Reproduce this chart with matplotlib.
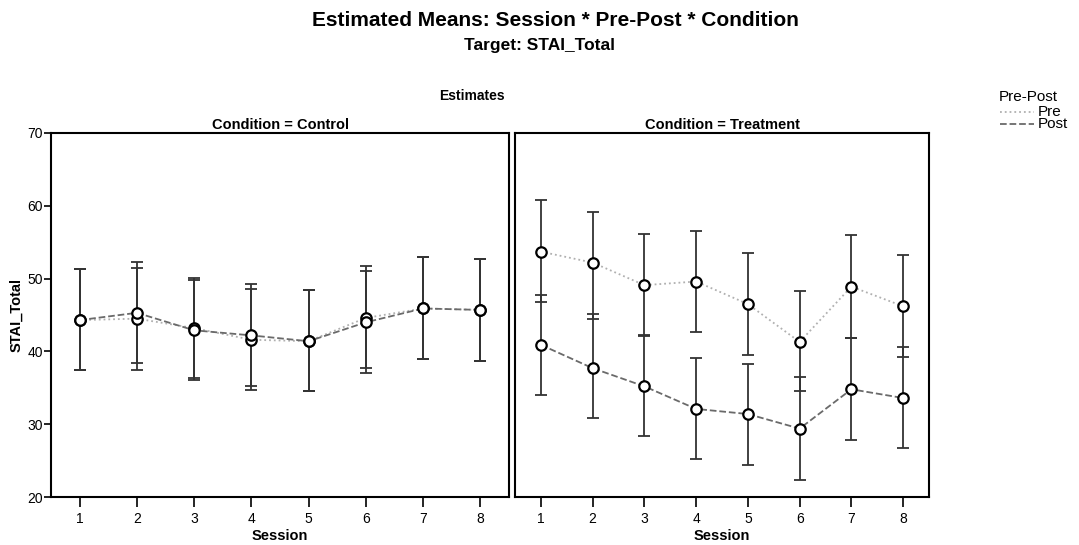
import numpy as np
import matplotlib
matplotlib.use('Agg')
import matplotlib.pyplot as plt
from matplotlib.lines import Line2D

plt.rcParams['font.family'] = ['Liberation Sans', 'DejaVu Sans']

sessions = [1, 2, 3, 4, 5, 6, 7, 8]

# Control condition
ctrl_pre = [44.3, 44.5, 43.2, 41.6, 41.4, 44.6, 45.9, 45.7]
ctrl_pre_lo = [37.4, 37.5, 36.3, 34.7, 34.5, 37.7, 38.9, 38.7]
ctrl_pre_hi = [51.3, 51.5, 50.1, 48.6, 48.4, 51.7, 53.0, 52.7]
ctrl_post = [44.3, 45.3, 42.9, 42.2, 41.4, 44.0, 45.9, 45.7]
ctrl_post_lo = [37.4, 38.4, 36.1, 35.3, 34.5, 37.1, 38.9, 38.7]
ctrl_post_hi = [51.3, 52.3, 49.8, 49.2, 48.4, 51.1, 53.0, 52.7]

# Treatment condition
trt_pre = [53.7, 52.2, 49.1, 49.6, 46.5, 41.3, 48.9, 46.2]
trt_pre_lo = [46.8, 44.5, 42.1, 42.6, 39.5, 34.5, 41.9, 39.3]
trt_pre_hi = [60.8, 59.2, 56.1, 56.6, 53.5, 48.3, 56.0, 53.2]
trt_post = [40.9, 37.7, 35.2, 32.1, 31.4, 29.4, 34.8, 33.6]
trt_post_lo = [34.0, 30.8, 28.4, 25.2, 24.4, 22.4, 27.8, 26.7]
trt_post_hi = [47.8, 45.1, 42.2, 39.1, 38.3, 36.5, 41.9, 40.6]

fig = plt.figure(figsize=(10.79, 5.45), dpi=100)
ax1 = fig.add_axes([0.0473, 0.088, 0.4244, 0.668])
ax2 = fig.add_axes([0.4773, 0.088, 0.3837, 0.668])

pre_col = '#b0b0b0'
post_col = '#6a6a6a'


def draw(ax, pre, pre_lo, pre_hi, post, post_lo, post_hi):
    x = np.array(sessions)
    for m, lo, hi, col, ls in [(pre, pre_lo, pre_hi, pre_col, ':'),
                               (post, post_lo, post_hi, post_col, '--')]:
        m = np.array(m)
        yerr = [m - np.array(lo), np.array(hi) - m]
        ax.errorbar(x, m, yerr=yerr, fmt='none', ecolor='#333333',
                    elinewidth=1.3, capsize=4, capthick=1.3, zorder=2)
        ax.plot(x, m, color=col, ls=ls, lw=1.3, zorder=3)
        ax.plot(x, m, 'o', mfc='white', mec='black', mew=1.6, ms=7.5, zorder=4)
    ax.set_xlim(0.5, 8.5)
    ax.set_ylim(20, 70)
    ax.set_xticks(sessions)
    ax.set_xlabel('Session', fontweight='bold', fontsize=10.5, labelpad=2)
    for s in ax.spines.values():
        s.set_linewidth(1.5)
    ax.tick_params(axis='x', direction='out', length=7, width=1.2,
                   labelsize=10, pad=4)
    ax.tick_params(axis='y', direction='out', length=5, width=1.2,
                   labelsize=10, pad=1)


draw(ax1, ctrl_pre, ctrl_pre_lo, ctrl_pre_hi, ctrl_post, ctrl_post_lo, ctrl_post_hi)
draw(ax2, trt_pre, trt_pre_lo, trt_pre_hi, trt_post, trt_post_lo, trt_post_hi)

ax1.set_yticks([20, 30, 40, 50, 60, 70])
ax1.set_ylabel('STAI_Total', fontweight='bold', fontsize=10.5, labelpad=3)
ax2.set_yticks([])
ax1.set_title('Condition = Control', fontweight='bold', fontsize=10.5, pad=3)
ax2.set_title('Condition = Treatment', fontweight='bold', fontsize=10.5, pad=3)

fig.text(0.515, 0.963, 'Estimated Means: Session * Pre-Post * Condition',
         ha='center', va='center', fontweight='bold', fontsize=15)
fig.text(0.50, 0.916, 'Target: STAI_Total', ha='center', va='center',
         fontweight='bold', fontsize=12.5)
fig.text(0.437, 0.824, 'Estimates', ha='center', va='center',
         fontweight='bold', fontsize=10)

fig.text(0.926, 0.822, 'Pre-Post', ha='left', va='center', fontsize=11)
fig.lines.append(Line2D([0.927, 0.958], [0.795, 0.795], color=pre_col,
                        ls=':', lw=1.3, transform=fig.transFigure))
fig.lines.append(Line2D([0.927, 0.958], [0.772, 0.772], color=post_col,
                        ls='--', lw=1.3, transform=fig.transFigure))
fig.text(0.962, 0.795, 'Pre', ha='left', va='center', fontsize=11)
fig.text(0.962, 0.772, 'Post', ha='left', va='center', fontsize=11)

fig.savefig('out.png', dpi=100)
